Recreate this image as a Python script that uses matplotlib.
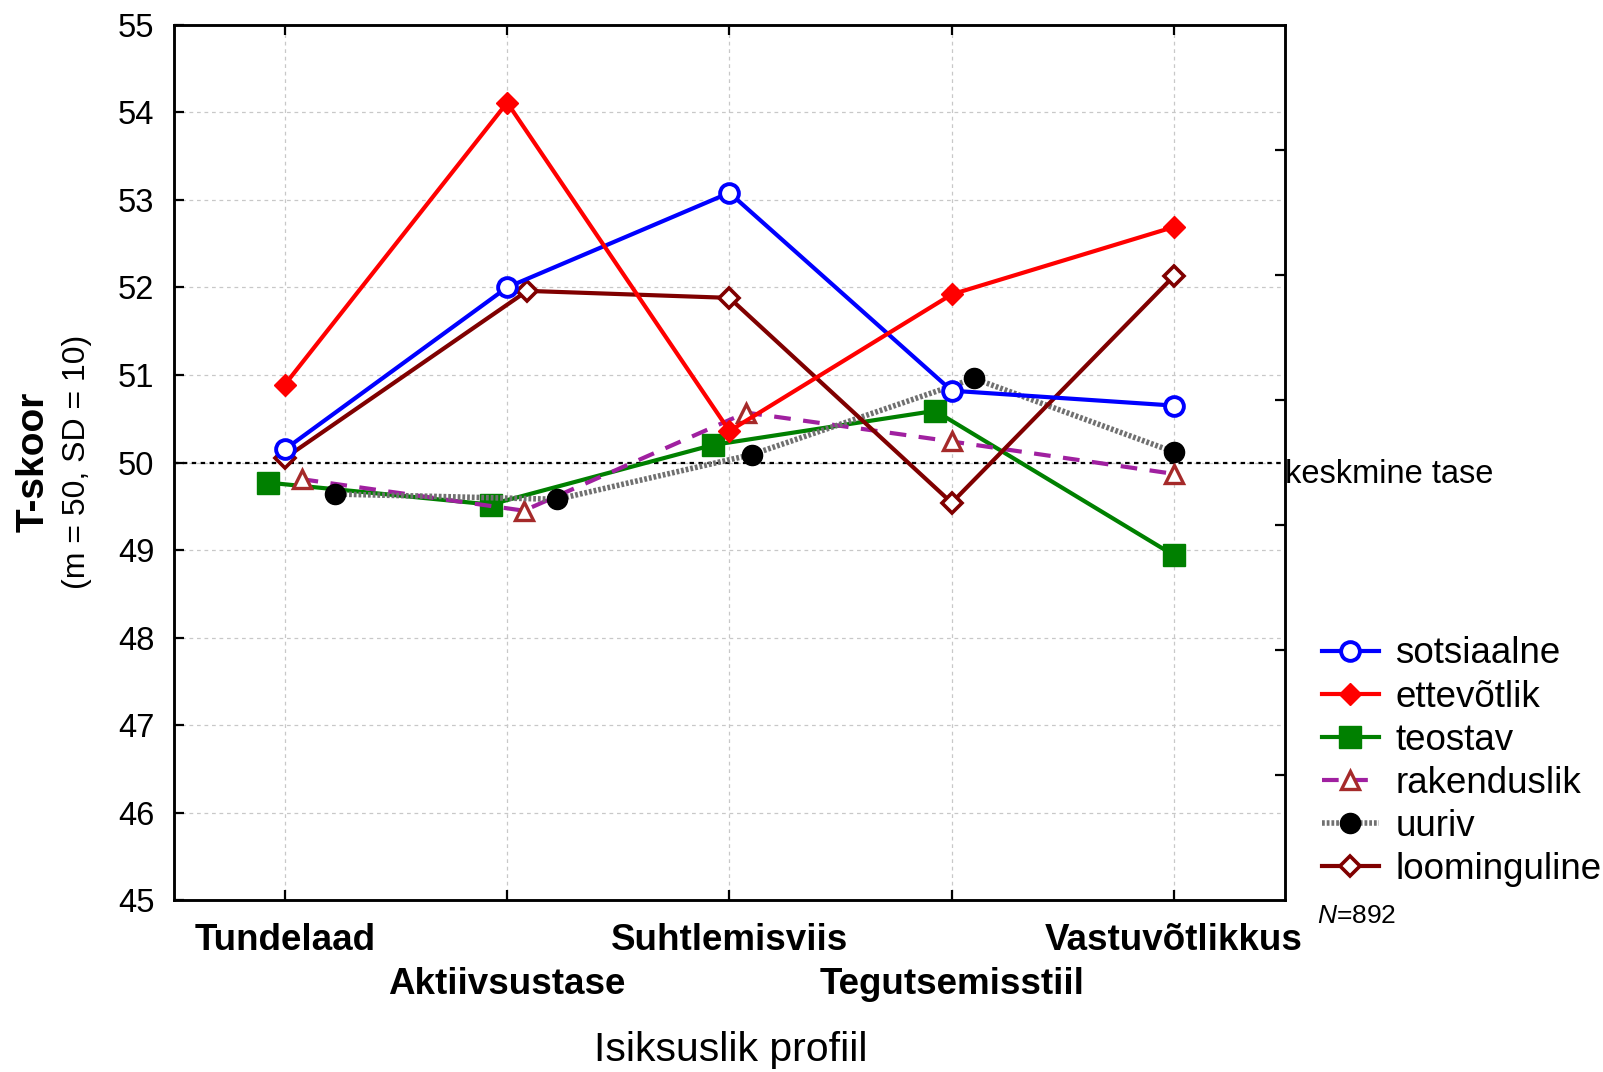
import numpy as np
import matplotlib
matplotlib.use("Agg")
from matplotlib import pyplot as plt

# ----- data ----- #
categories = ["Tundelaad", "Aktiivsustase", "Suhtlemisviis", "Tegutsemisstiil", "Vastuvõtlikkus"]
series_names = ["sotsiaalne", "ettevõtlik", "teostav", "rakenduslik", "uuriv", "loominguline"]

sotsiaalne = [50.15, 52.00, 53.08, 50.82, 50.65]
ettevotlik = [50.89, 54.11, 50.36, 51.92, 52.69]
teostav = [49.77, 49.52, 50.20, 50.59, 48.94]
rakenduslik = [49.81, 49.45, 50.57, 50.24, 49.87]
uuriv = [49.64, 49.58, 50.09, 50.96, 50.12]
loominguline = [50.05, 51.96, 51.88, 49.54, 52.13]

# small horizontal shifts so markers do not sit on each other (category units)
shift_sotsiaalne = [0, 0, 0, 0, 0]
shift_ettevotlik = [0, 0, 0, 0, 0]
shift_teostav = [-0.075, -0.075, -0.075, -0.075, 0]
shift_rakenduslik = [0.075, 0.075, 0.075, 0, 0]
shift_uuriv = [0.225, 0.225, 0.10, 0.10, 0]
shift_loominguline = [0, 0.09, 0, 0, 0]

y_ticks = list(range(45, 56))
mean_level = 50
n_total = 892

# ----- fonts ----- #
plt.rcParams['font.family'] = ['Liberation Sans', 'DejaVu Sans']
plt.rcParams['mathtext.fontset'] = 'custom'
plt.rcParams['mathtext.it'] = 'Liberation Sans:italic'
plt.rcParams['mathtext.rm'] = 'Liberation Sans'

fig = plt.figure(figsize=(16.03, 10.72), dpi=100)
ax = fig.add_axes([0.1084, 0.1601, 0.8017 - 0.1084, 0.977 - 0.1601])

x = np.arange(len(categories))

# style of each series
styles = [
	dict(color='#0000ff', lw=3.0, marker='o', ms=13.5, mfc='white', mec='#0000ff', mew=2.8),
	dict(color='#ff0000', lw=3.0, marker='D', ms=11, mfc='#ff0000', mec='#ff0000', mew=1),
	dict(color='#008000', lw=3.0, marker='s', ms=16.5, mfc='#008000', mec='#008000', mew=1),
	dict(color='#a020a0', lw=3.0, ls=(0, (4, 3)), marker='^', ms=13.5, mfc='white', mec='#a52a2a', mew=2.4),
	dict(color='#707070', lw=4.0, ls=(0, (0.5, 0.35)), marker='o', ms=14.5, mfc='black', mec='black', mew=1),
	dict(color='#800000', lw=3.0, marker='D', ms=10, mfc='white', mec='#800000', mew=2.6),
]
values = [sotsiaalne, ettevotlik, teostav, rakenduslik, uuriv, loominguline]
shifts = [shift_sotsiaalne, shift_ettevotlik, shift_teostav, shift_rakenduslik, shift_uuriv, shift_loominguline]

handles = []
for name, vals, sh, st in zip(series_names, values, shifts, styles):
	h, = ax.plot(x + np.array(sh), vals, label=name, zorder=3, **st)
	handles.append(h)
# sotsiaalne / ettevotlik on top near the 50 cluster
handles[0].set_zorder(5)
handles[1].set_zorder(5)
handles[5].set_zorder(4)

# mean level line
ax.axhline(mean_level, color='black', lw=1.6, ls=(0, (2, 2)), zorder=2)
ax.text(1.0, mean_level + 0.04, "keskmine tase", transform=ax.get_yaxis_transform(),
	ha='left', va='top', fontsize=23.5)

# ----- axes ----- #
ax.set_xlim(-0.5, len(categories) - 0.5)
ax.set_ylim(45, 55)
ax.set_yticks(y_ticks)
ax.set_yticklabels([str(t) for t in y_ticks], fontsize=23.5)

# category labels in two staggered rows: even ones as major, odd ones as minor ticks
ax.set_xticks(x[0::2])
ax.set_xticklabels(categories[0::2], fontsize=26.5, fontweight='bold')
ax.set_xticks(x[1::2], minor=True)
ax.set_xticklabels(categories[1::2], minor=True, fontsize=26.5, fontweight='bold')

ax.grid(True, which='both', axis='x', color='#c8c8c8', lw=0.9, ls=(0, (3, 3)), zorder=0)
ax.grid(True, which='major', axis='y', color='#c8c8c8', lw=0.9, ls=(0, (3, 3)), zorder=0)
ax.set_axisbelow(True)
ax.tick_params(axis='both', which='both', direction='in', length=7, width=1.6)
ax.tick_params(axis='x', which='major', top=True, pad=16)
ax.tick_params(axis='x', which='minor', top=True, pad=48)
ax.tick_params(axis='y', which='minor', left=False, right=False)
ax.tick_params(axis='y', pad=14)
for sp in ax.spines.values():
	sp.set_linewidth(1.8)

# right side ticks (7 equal parts, no labels)
ax2 = ax.twinx()
ax2.set_ylim(0, 7)
ax2.set_yticks(range(1, 7))
ax2.set_yticklabels([])
ax2.tick_params(axis='y', direction='in', length=7, width=1.6)
for sp in ax2.spines.values():
	sp.set_linewidth(1.8)

# ----- labels ----- #
fig.text(0.456, 0.0205, "Isiksuslik profiil", ha='center', va='center', fontsize=29.5)
fig.text(0.021, 0.569, "T-skoor", rotation=90, ha='center', va='center', fontsize=28, fontweight='bold')
fig.text(0.048, 0.569, "(m = 50, SD = 10)", rotation=90, ha='center', va='center', fontsize=23)
fig.text(0.8214, 0.1458, "$N$=%d" % n_total, ha='left', va='center', fontsize=19)

leg = fig.legend(handles=handles, loc='center left', bbox_to_anchor=(0.8246, 0.2895),
	bbox_transform=fig.transFigure, frameon=False, fontsize=26.5, handlelength=1.55,
	handletextpad=0.45, labelspacing=0.22, borderpad=0, borderaxespad=0)

fig.savefig("out.png", dpi=100)
